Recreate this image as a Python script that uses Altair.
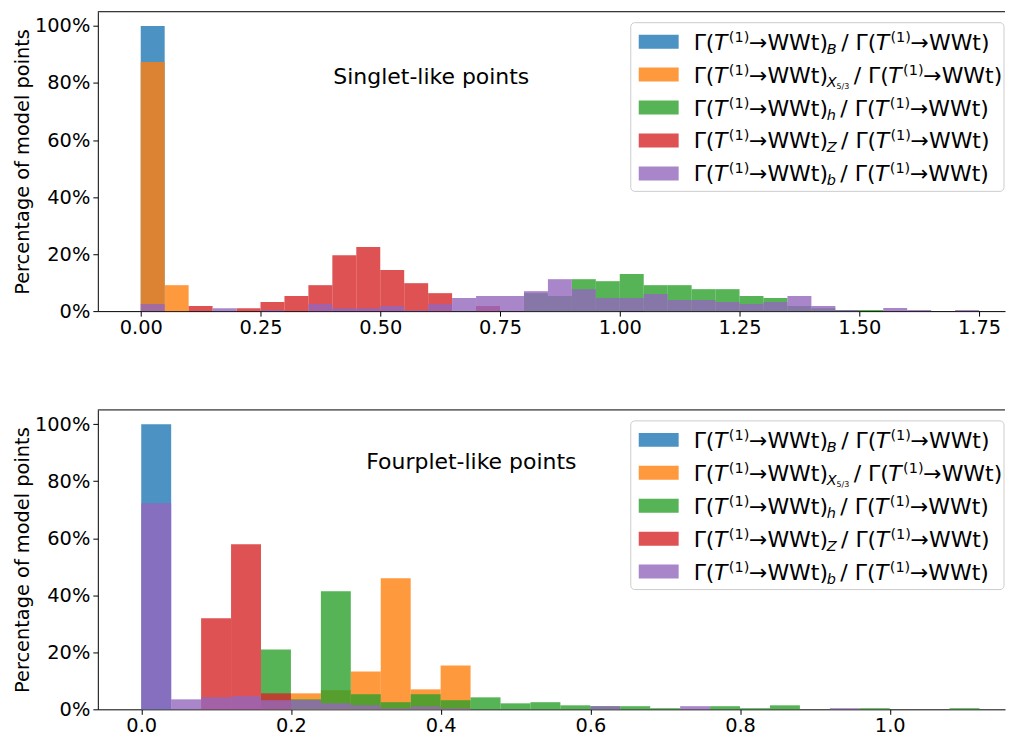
import altair as alt
import pandas as pd

FONT = "DejaVu Sans"
SERIES = ["B", "X", "h", "Z", "b"]
COLORS = ["#1f77b4", "#ff7f0e", "#2ca02c", "#d62728", "#9467bd"]
SUBSCRIPTS = ["B", "X", "h", "Z", "b"]
SUBSUB = ["", "5/3", "", "", ""]

# ---- Top panel: singlet-like points, bins of width 0.05 starting at 0 (35 bins) ----
TOP_BIN_WIDTH = 0.05
top_B = [100.0, 0, 0, 0, 0, 0, 0, 0, 0, 0, 0, 0, 0, 0, 0, 0, 0, 0, 0, 0,
         0, 0, 0, 0, 0, 0, 0, 0, 0, 0, 0, 0, 0, 0, 0]
top_X = [87.4, 9.1, 0, 0, 0, 0, 0, 0, 0, 0, 0, 0, 0, 0, 0, 0, 0, 0, 0, 0,
         0, 0, 0, 0, 0, 0, 0, 0, 0, 0, 0, 0, 0, 0, 0]
top_h = [0, 0, 0, 0, 0, 0, 0, 0, 0, 0, 0, 0, 0, 0, 0, 0, 6.3, 5.3, 11.2, 10.5,
         13.0, 9.1, 9.1, 7.7, 7.7, 5.3, 4.6, 1.8, 1.0, 0.4, 0.4, 0, 0, 0, 0]
top_Z = [0, 0, 1.8, 0, 1.0, 3.2, 5.3, 9.1, 19.6, 22.5, 14.4, 9.8, 6.3, 0, 1.8, 0, 0, 0, 0, 0,
         0, 0, 0, 0, 0, 0, 0, 0, 0, 0, 0, 0, 0, 0, 0]
top_b = [2.5, 0, 0, 1.0, 0, 0.4, 0, 2.5, 1.0, 1.0, 1.8, 0.3, 2.5, 4.6, 5.3, 5.3, 7.0, 11.2, 7.7, 4.6,
         4.6, 6.0, 3.9, 3.9, 3.2, 2.5, 3.2, 5.3, 1.8, 0.4, 0, 1.1, 0.4, 0, 0.4]

# ---- Bottom panel: fourplet-like points, bins of width 0.04 starting at 0 (28 bins) ----
BOT_BIN_WIDTH = 0.04
bot_B = [100.0, 0, 0, 0, 0, 0, 0, 0, 0, 0, 0, 0, 0, 0, 0, 0, 0, 0, 0, 0, 0, 0, 0, 0, 0, 0, 0, 0]
bot_X = [0, 0, 0, 0, 0, 5.6, 6.7, 13.3, 46.0, 7.0, 15.4, 0, 0, 0, 0, 0, 0, 0, 0, 0, 0, 0, 0, 0, 0, 0, 0, 0]
bot_h = [0, 0, 0, 0, 21.0, 3.5, 41.4, 5.3, 2.5, 5.3, 3.2, 4.2, 2.1, 2.5, 1.4, 1.1, 1.1, 0.4, 0, 1.1,
         0.4, 1.4, 0, 0, 0.4, 0, 0, 0.4]
bot_Z = [0, 0, 31.9, 57.9, 5.6, 0, 0, 0, 0, 0, 0, 0, 0, 0, 0, 0, 0, 0, 0, 0, 0, 0, 0, 0, 0, 0, 0, 0]
bot_b = [72.3, 3.5, 4.2, 4.6, 3.2, 3.2, 2.1, 1.4, 0.4, 1.0, 0.4, 0, 0, 0, 0, 1.1, 0, 0, 1.1, 0,
         0, 0, 0, 0.4, 0, 0, 0, 0]

TOP_XTICKS = [0, 0.25, 0.5, 0.75, 1.0, 1.25, 1.5, 1.75]
BOT_XTICKS = [0, 0.2, 0.4, 0.6, 0.8, 1.0]
YTICKS = [0, 20, 40, 60, 80, 100]
YTITLE = "Percentage of model points"

W, H = 909, 300
MAIN, SMALL, TINY = 22, 14.5, 8

# DejaVu Sans advance widths in em, used to lay the legend's math-like label segments side by side
ADV = {"Γ": 0.557, "(": 0.390, ")": 0.390, "W": 0.989, "t": 0.392, "/": 0.337, " ": 0.318,
       "→": 0.838, "1": 0.636, "3": 0.636, "5": 0.636, "T": 0.611, "B": 0.686, "X": 0.684,
       "h": 0.634, "Z": 0.685, "b": 0.635}


def adv(s, size):
    return sum(ADV[ch] for ch in s) * size * 0.985


def make_df(bw, lists):
    rows = []
    for s, vals in zip(SERIES, lists):
        for i, v in enumerate(vals):
            if v > 0:
                rows.append(dict(series=s, lo=round(i * bw, 4), hi=round((i + 1) * bw, 4),
                                 pct=v, base=0))
    return pd.DataFrame(rows)


def txt(one, text, x, y, size, style="normal"):
    return alt.Chart(one).mark_text(
        text=text, font=FONT, fontSize=size, fontStyle=style, align="left",
        baseline="alphabetic", color="black"
    ).encode(x=alt.value(x), y=alt.value(y))


def legend_layers():
    one = pd.DataFrame({"k": [0]})
    layers = [alt.Chart(one).mark_rect(
        fill="white", fillOpacity=0.8, stroke="#cccccc", strokeWidth=1, cornerRadius=4
    ).encode(x=alt.value(534), x2=alt.value(908), y=alt.value(11), y2=alt.value(180))]
    for i, (col, sub, subsub) in enumerate(zip(COLORS, SUBSCRIPTS, SUBSUB)):
        c = 30 + 33 * i
        base = c + 8
        layers.append(alt.Chart(one).mark_rect(color=col, opacity=0.8).encode(
            x=alt.value(542), x2=alt.value(582), y=alt.value(c - 7), y2=alt.value(c + 7)))
        segs = [("Γ(", MAIN, 0, "normal"), ("T", MAIN, 0, "italic"), ("(1)", SMALL, -8, "normal"),
                ("→WWt)", MAIN, 0, "normal"), (sub, SMALL, 4, "italic")]
        if subsub:
            segs.append((subsub, TINY, 6, "normal"))
        segs += [("/ Γ(", MAIN, 0, "normal"), ("T", MAIN, 0, "italic"), ("(1)", SMALL, -8, "normal"),
                 ("→WWt)", MAIN, 0, "normal")]
        x = 597.0
        for s, size, dy, style in segs:
            layers.append(txt(one, s, round(x, 1), base + dy, size, style))
            x += adv(s, size)
            if s == "T":
                x += 1.5
            if s in ("B", "h", "Z", "b") or s == subsub:
                x += 4.5
    return layers


def panel(bw, lists, xdom, xticks, xfmt, note, note_x, note_y):
    df = make_df(bw, lists)
    one = pd.DataFrame({"k": [0]})
    bars = alt.Chart(df).mark_bar(opacity=0.8).encode(
        x=alt.X("lo:Q", scale=alt.Scale(domain=xdom, nice=False, zero=False),
                axis=alt.Axis(values=xticks, format=xfmt, title=None, grid=False, labelFlush=False)),
        x2="hi:Q",
        y=alt.Y("pct:Q", stack=None, scale=alt.Scale(domain=[0, 105], nice=False),
                axis=alt.Axis(values=YTICKS, labelExpr="datum.value + '%'", title=YTITLE, grid=False)),
        y2="base:Q",
        color=alt.Color("series:N", scale=alt.Scale(domain=SERIES, range=COLORS), legend=None),
    )
    top_spine = alt.Chart(one).mark_rule(color="black", strokeWidth=1).encode(
        x=alt.value(0), x2=alt.value(W), y=alt.value(0))
    note_layer = txt(one, note, note_x, note_y, MAIN)
    return alt.layer(bars, top_spine, note_layer, *legend_layers()).properties(width=W, height=H)


top = panel(TOP_BIN_WIDTH, [top_B, top_X, top_h, top_Z, top_b],
            [-43 / 480, (W - 43) / 480], TOP_XTICKS, ".2f", "Singlet-like points", 236, 72)
bottom = panel(BOT_BIN_WIDTH, [bot_B, bot_X, bot_h, bot_Z, bot_b],
               [-43.5 / 750, (W - 43.5) / 750], BOT_XTICKS, ".1f", "Fourplet-like points", 269, 59)

chart = alt.vconcat(top, bottom, spacing=72).properties(
    padding={"left": 4, "top": 2, "right": 0, "bottom": 0}
).configure_view(stroke=None).configure_axis(
    domainColor="black", domainWidth=1, tickColor="black", tickWidth=1, tickSize=5,
    labelFont=FONT, labelFontSize=19.4, labelColor="black", labelPadding=3,
    titleFont=FONT, titleFontSize=19.4, titleFontWeight="normal", titleColor="black",
    titlePadding=2,
).configure_axisX(labelPadding=2)

chart.save("out.html", embed_options={"renderer": "svg", "actions": False})
